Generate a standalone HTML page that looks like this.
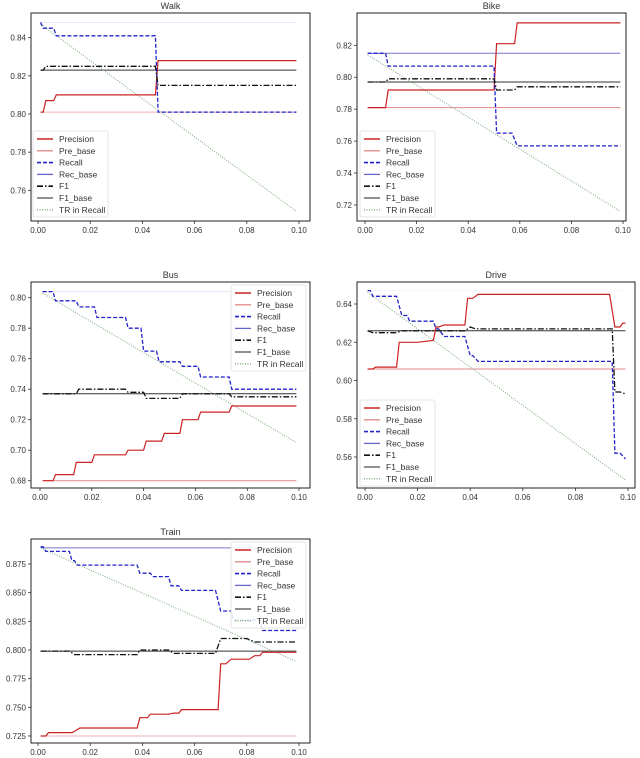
<!DOCTYPE html>
<html><head><meta charset="utf-8"><style>
html,body{margin:0;padding:0;background:#fff}
svg{display:block}
text{font-family:"Liberation Sans",sans-serif;fill:#333}
</style></head><body>
<svg id="c" width="640" height="758" viewBox="0 0 640 758" xmlns="http://www.w3.org/2000/svg"></svg>
<script>
// ---------- data ----------
const xTicks = [0, 0.02, 0.04, 0.06, 0.08, 0.10];
const xTickLabels = ["0.00","0.02","0.04","0.06","0.08","0.10"];
const seriesNames = ["Precision","Pre_base","Recall","Rec_base","F1","F1_base","TR in Recall"];

// Walk
const walkPrecX = [0.001,0.002,0.003,0.006,0.007,0.045,0.046,0.099];
const walkPrecY = [0.801,0.801,0.807,0.807,0.810,0.810,0.828,0.828];
const walkRecX = [0.001,0.002,0.006,0.007,0.045,0.046,0.099];
const walkRecY = [0.848,0.845,0.845,0.841,0.841,0.801,0.801];
const walkF1X = [0.001,0.002,0.003,0.045,0.046,0.099];
const walkF1Y = [0.823,0.823,0.825,0.825,0.815,0.815];
const walkBase = [0.801,0.848,0.823];
const walkTR = [0.847,0.749];
const walkYTicks = [0.76,0.78,0.80,0.82,0.84];

// Bike
const bikePrecX = [0.001,0.008,0.009,0.050,0.051,0.058,0.059,0.099];
const bikePrecY = [0.781,0.781,0.792,0.792,0.821,0.821,0.834,0.834];
const bikeRecX = [0.001,0.008,0.009,0.050,0.051,0.057,0.059,0.099];
const bikeRecY = [0.815,0.815,0.807,0.807,0.765,0.765,0.757,0.757];
const bikeF1X = [0.001,0.008,0.009,0.050,0.051,0.058,0.059,0.099];
const bikeF1Y = [0.797,0.797,0.799,0.799,0.792,0.792,0.794,0.794];
const bikeBase = [0.781,0.815,0.797];
const bikeTR = [0.814,0.716];
const bikeYTicks = [0.72,0.74,0.76,0.78,0.80,0.82];

// Bus
const busPrecX = [0.001,0.005,0.006,0.013,0.014,0.020,0.021,0.033,0.034,0.040,0.041,0.047,0.048,0.054,0.055,0.061,0.062,0.073,0.074,0.099];
const busPrecY = [0.680,0.680,0.684,0.684,0.692,0.692,0.697,0.697,0.700,0.700,0.706,0.706,0.711,0.711,0.720,0.720,0.725,0.725,0.729,0.729];
const busRecX = [0.001,0.005,0.006,0.014,0.015,0.021,0.022,0.033,0.034,0.039,0.040,0.045,0.046,0.054,0.055,0.061,0.062,0.073,0.074,0.099];
const busRecY = [0.804,0.804,0.798,0.798,0.794,0.794,0.787,0.787,0.780,0.780,0.765,0.765,0.758,0.758,0.755,0.755,0.748,0.748,0.740,0.740];
const busF1X = [0.001,0.014,0.015,0.033,0.034,0.040,0.041,0.054,0.055,0.073,0.074,0.099];
const busF1Y = [0.737,0.737,0.740,0.740,0.738,0.738,0.734,0.734,0.737,0.737,0.735,0.735];
const busBase = [0.680,0.804,0.737];
const busTR = [0.803,0.705];
const busYTicks = [0.68,0.70,0.72,0.74,0.76,0.78,0.80];

// Drive
const drivePrecX = [0.001,0.003,0.004,0.012,0.013,0.020,0.026,0.027,0.028,0.030,0.038,0.039,0.041,0.043,0.093,0.095,0.097,0.098,0.099];
const drivePrecY = [0.606,0.606,0.607,0.607,0.620,0.620,0.621,0.628,0.628,0.629,0.629,0.643,0.643,0.645,0.645,0.628,0.628,0.630,0.630];
const driveRecX = [0.001,0.002,0.003,0.012,0.014,0.016,0.017,0.026,0.027,0.028,0.030,0.038,0.040,0.041,0.043,0.094,0.095,0.097,0.099];
const driveRecY = [0.647,0.647,0.644,0.644,0.634,0.634,0.631,0.631,0.627,0.627,0.623,0.623,0.613,0.613,0.610,0.610,0.562,0.562,0.559];
const driveF1X = [0.001,0.003,0.012,0.014,0.038,0.040,0.042,0.094,0.095,0.097,0.099];
const driveF1Y = [0.626,0.625,0.625,0.626,0.626,0.628,0.627,0.627,0.594,0.594,0.593];
const driveBase = [0.606,0.647,0.626];
const driveTR = [0.646,0.548];
const driveYTicks = [0.56,0.58,0.60,0.62,0.64];

// Train
const trainPrecX = [0.001,0.003,0.004,0.013,0.014,0.016,0.038,0.039,0.042,0.043,0.050,0.052,0.054,0.055,0.069,0.070,0.072,0.074,0.081,0.083,0.085,0.086,0.099];
const trainPrecY = [0.725,0.725,0.728,0.728,0.729,0.732,0.732,0.741,0.741,0.744,0.744,0.745,0.745,0.748,0.748,0.788,0.788,0.792,0.792,0.795,0.795,0.798,0.798];
const trainRecX = [0.001,0.002,0.003,0.012,0.013,0.014,0.015,0.038,0.039,0.043,0.044,0.050,0.051,0.054,0.055,0.068,0.070,0.074,0.075,0.085,0.086,0.099];
const trainRecY = [0.890,0.890,0.886,0.886,0.878,0.878,0.874,0.874,0.867,0.867,0.864,0.864,0.856,0.856,0.852,0.852,0.834,0.834,0.826,0.826,0.817,0.817];
const trainF1X = [0.001,0.012,0.014,0.038,0.039,0.050,0.052,0.068,0.070,0.080,0.083,0.099];
const trainF1Y = [0.799,0.799,0.796,0.796,0.800,0.800,0.797,0.797,0.810,0.810,0.807,0.807];
const trainBase = [0.725,0.889,0.799];
const trainTR = [0.889,0.790];
const trainYTicks = [0.725,0.750,0.775,0.800,0.825,0.850,0.875];

// ---------- layout ----------
const panels = [
 {name:"Walk",box:[31,13,310,221],xp:[38,299],ya:[0.84,37.7],yb:[0.80,114],prec:[walkPrecX,walkPrecY],rec:[walkRecX,walkRecY],f1:[walkF1X,walkF1Y],base:walkBase,tr:walkTR,yt:walkYTicks,dec:2,leg:[33,131],rc:"#e6e6f6",pc:"#f0b0b0"},
 {name:"Bike",box:[357,13,626,221],xp:[365,623],ya:[0.82,45.3],yb:[0.72,205],prec:[bikePrecX,bikePrecY],rec:[bikeRecX,bikeRecY],f1:[bikeF1X,bikeF1Y],base:bikeBase,tr:bikeTR,yt:bikeYTicks,dec:2,leg:[360,131],rc:"#7777cc",pc:"#e08888"},
 {name:"Bus",box:[31,282,310,488],xp:[40,299],ya:[0.80,297.7],yb:[0.68,480.7],prec:[busPrecX,busPrecY],rec:[busRecX,busRecY],f1:[busF1X,busF1Y],base:busBase,tr:busTR,yt:busYTicks,dec:2,leg:[231,285],rc:"#e6e6f6",pc:"#e08888"},
 {name:"Drive",box:[357,282,635,488],xp:[365,628],ya:[0.64,304],yb:[0.56,457],prec:[drivePrecX,drivePrecY],rec:[driveRecX,driveRecY],f1:[driveF1X,driveF1Y],base:driveBase,tr:driveTR,yt:driveYTicks,dec:2,leg:[360,400],rc:"#f4f4fb",pc:"#e08888"},
 {name:"Train",box:[31,539,310,743],xp:[38,299],ya:[0.875,564],yb:[0.725,736],prec:[trainPrecX,trainPrecY],rec:[trainRecX,trainRecY],f1:[trainF1X,trainF1Y],base:trainBase,tr:trainTR,yt:trainYTicks,dec:3,leg:[231,542],rc:"#7777cc",pc:"#f0b0b0"}
];
const styles = [
 {c:"#cc2222",w:1.2,d:""},
 {c:"#e08888",w:1,d:""},
 {c:"#2222cc",w:1.3,d:"4,2"},
 {c:"#6666cc",w:1,d:""},
 {c:"#111111",w:1.3,d:"6,2,1.5,2"},
 {c:"#555555",w:1,d:""},
 {c:"#77aa77",w:1,d:"1,1.5"}
];
const NS="http://www.w3.org/2000/svg";
const svg=document.getElementById('c');
function mk(tag,attrs,parent){const e=document.createElementNS(NS,tag);for(const k in attrs)e.setAttribute(k,attrs[k]);(parent||svg).appendChild(e);return e;}

panels.forEach(p=>{
  const g=mk('g',{});
  
  
  const [l,t,r,b]=p.box;
  const sx=v=>p.xp[0]+(p.xp[1]-p.xp[0])*v/0.10;
  const sy=v=>p.ya[1]+(v-p.ya[0])*(p.yb[1]-p.ya[1])/(p.yb[0]-p.ya[0]);
  const title=mk('text',{x:(l+r)/2,y:t-4,'text-anchor':'middle','font-size':9},g);
  title.textContent=p.name;
  
  
  xTicks.forEach((v,i)=>{
    const x=sx(v);
    mk('line',{x1:x,x2:x,y1:b,y2:b+3,stroke:'#333','stroke-width':0.8},g);
    const tx=mk('text',{x:x,y:b+12,'text-anchor':'middle','font-size':8},g);
    tx.textContent=xTickLabels[i];
    
    
  });
  p.yt.forEach(v=>{
    const y=sy(v);
    mk('line',{x1:l-3,x2:l,y1:y,y2:y,stroke:'#333','stroke-width':0.8},g);
    const ty=mk('text',{x:l-5,y:y+3,'text-anchor':'end','font-size':8},g);
    ty.textContent=v.toFixed(p.dec);
    
    
  });
  const lineFrom=(xs,ys,s,nm,col)=>{
    const pts=xs.map((x,i)=>sx(x).toFixed(1)+','+sy(ys[i]).toFixed(1)).join(' ');
    const pl=mk('polyline',{points:pts,fill:'none',stroke:col||s.c,'stroke-width':s.w,'stroke-dasharray':s.d},g);
    
    
  };
  const x0=0.001,x1=0.099;
  lineFrom([x0,x1],[p.base[0],p.base[0]],styles[1],'pre-base-line',p.pc);
  lineFrom([x0,x1],[p.base[1],p.base[1]],styles[3],'rec-base-line',p.rc);
  lineFrom([x0,x1],[p.base[2],p.base[2]],styles[5],'f1-base-line','#333');
  lineFrom([x0,x1],p.tr,styles[6],'tr-in-recall-line');
  lineFrom(p.prec[0],p.prec[1],styles[0],'precision-line');
  lineFrom(p.rec[0],p.rec[1],styles[2],'recall-line');
  lineFrom(p.f1[0],p.f1[1],styles[4],'f1-line');
  mk('rect',{x:l,y:t,width:r-l,height:b-t,fill:'none',stroke:'#222','stroke-width':1},g);
  const [lx,ly]=p.leg;
  const lg=mk('g',{},g);
  
  
  mk('rect',{x:lx,y:ly,width:75,height:86,fill:'#fff','fill-opacity':0.85,stroke:'#ddd','stroke-width':0.8,rx:2},lg);
  seriesNames.forEach((n,i)=>{
    const y=ly+8+i*11.8;
    const s=styles[i];
    mk('line',{x1:lx+4,x2:lx+20,y1:y,y2:y,stroke:s.c,'stroke-width':s.w+0.3,'stroke-dasharray':s.d},lg);
    const te=mk('text',{x:lx+26,y:y+3,'font-size':8.5},lg);
    te.textContent=n;
    
    
  });
});
</script>
</body></html>
